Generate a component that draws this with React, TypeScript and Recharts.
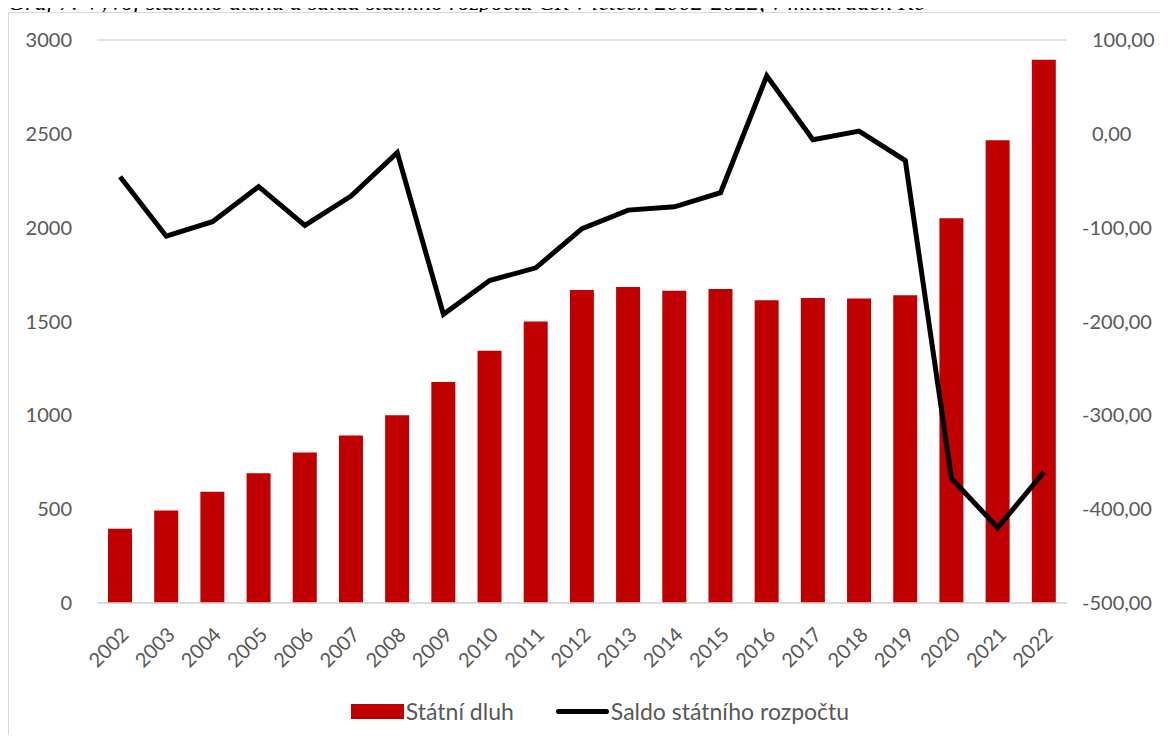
import { ComposedChart, Bar, Line, XAxis, YAxis, CartesianGrid, Legend } from "recharts";

const years = [
  "2002", "2003", "2004", "2005", "2006", "2007", "2008", "2009", "2010", "2011", "2012",
  "2013", "2014", "2015", "2016", "2017", "2018", "2019", "2020", "2021", "2022",
];
// státní dluh, mld. Kč
const debt = [
  395.2, 493.2, 592.9, 691.2, 802.5, 892.3, 999.8, 1178.2, 1344.1, 1499.4, 1667.6,
  1683.3, 1663.7, 1673.0, 1613.4, 1624.7, 1622.0, 1640.2, 2049.7, 2465.7, 2894.8,
];
// saldo státního rozpočtu, mld. Kč
const balance = [
  -45.7, -109.1, -93.7, -56.3, -97.6, -66.4, -20.0, -192.4, -156.4, -142.8, -101.0,
  -81.3, -77.8, -62.8, 61.8, -6.2, 2.9, -28.5, -367.4, -419.7, -360.4,
];
const debtTicks = [0, 500, 1000, 1500, 2000, 2500, 3000];
const balanceTicks = [-500, -400, -300, -200, -100, 0, 100];

const data = years.map((year, i) => ({ year, debt: debt[i], balance: balance[i] }));

const FONT = "Lato, 'Liberation Sans', sans-serif";
const GRAY = "#595959";
const RED = "#C00000";

const fmtBalance = (v: number) => v.toFixed(2).replace(".", ",");

const YearTick = (props: any) => {
  const { x, y, payload } = props;
  return (
    <g transform={`translate(${x + 5},${y + 20})`}>
      <text
        x={0}
        y={0}
        dy="0.35em"
        textAnchor="end"
        transform="rotate(-45)"
        fill={GRAY}
        fontSize={20}
        fontFamily={FONT}
      >
        {payload.value}
      </text>
    </g>
  );
};

// Excel style: positive values keep a blank where the minus sign would be
const BalanceTick = (props: any) => {
  const { x, y, payload } = props;
  return (
    <text
      x={payload.value < 0 ? x : x + 10}
      y={y}
      dy="0.35em"
      textAnchor="start"
      fill={GRAY}
      fontSize={20}
      fontFamily={FONT}
    >
      {fmtBalance(payload.value)}
    </text>
  );
};

const LegendContent = () => (
  <div
    style={{
      display: "flex",
      justifyContent: "center",
      alignItems: "center",
      height: 26,
      marginTop: -6,
      paddingLeft: 22,
      fontFamily: FONT,
      fontSize: 23,
      color: GRAY,
    }}
  >
    <span style={{ display: "inline-block", width: 53, height: 15, background: RED, marginRight: 2 }} />
    <span style={{ marginRight: 42 }}>Státní dluh</span>
    <span
      style={{ display: "inline-block", width: 53, height: 5, background: "#000", borderRadius: 3, marginRight: 2 }}
    />
    <span>Saldo státního rozpočtu</span>
  </div>
);

export default function App() {
  return (
    <div style={{ position: "relative", margin: -8, width: 1168, height: 743, overflow: "hidden", background: "#fff" }}>
      <svg width={1168} height={12} style={{ position: "absolute", left: 0, top: 0, display: "block" }}>
        <text
          x={8}
          y={10}
          fontFamily="'Liberation Serif', 'Times New Roman', serif"
          fontStyle="italic"
          fontSize={24}
          fill="#000"
        >
          Graf 7: Vývoj státního dluhu a salda státního rozpočtu ČR v letech 2002-2022, v miliardách Kč
        </text>
      </svg>
      <div
        style={{
          position: "absolute",
          left: 8,
          top: 12,
          width: 1170,
          height: 740,
          border: "1px solid #d9d9d9",
          boxSizing: "border-box",
        }}
      >
        <ComposedChart
          width={1160}
          height={731}
          data={data}
          margin={{ top: 27, right: 0, bottom: 0, left: 0 }}
        >
          <CartesianGrid vertical={false} stroke="#d9d9d9" strokeWidth={1.3} />
          <XAxis
            dataKey="year"
            height={101}
            tick={<YearTick />}
            tickLine={false}
            axisLine={{ stroke: "#d9d9d9", strokeWidth: 1.3 }}
            interval={0}
          />
          <YAxis
            yAxisId="left"
            width={88}
            domain={[0, 3000]}
            ticks={debtTicks}
            tickLine={false}
            axisLine={false}
            tickMargin={19}
            tick={{ fill: GRAY, fontSize: 20, fontFamily: FONT }}
          />
          <YAxis
            yAxisId="right"
            orientation="right"
            width={102}
            domain={[-500, 100]}
            ticks={balanceTicks}
            tickLine={false}
            axisLine={false}
            tickMargin={9}
            tick={<BalanceTick />}
          />
          <Bar yAxisId="left" dataKey="debt" name="Státní dluh" fill={RED} barSize={24} isAnimationActive={false} />
          <Line
            yAxisId="right"
            dataKey="balance"
            name="Saldo státního rozpočtu"
            stroke="#000"
            strokeWidth={5}
            dot={false}
            activeDot={false}
            type="linear"
            isAnimationActive={false}
          />
          <Legend verticalAlign="bottom" height={40} content={<LegendContent />} />
        </ComposedChart>
      </div>
    </div>
  );
}
